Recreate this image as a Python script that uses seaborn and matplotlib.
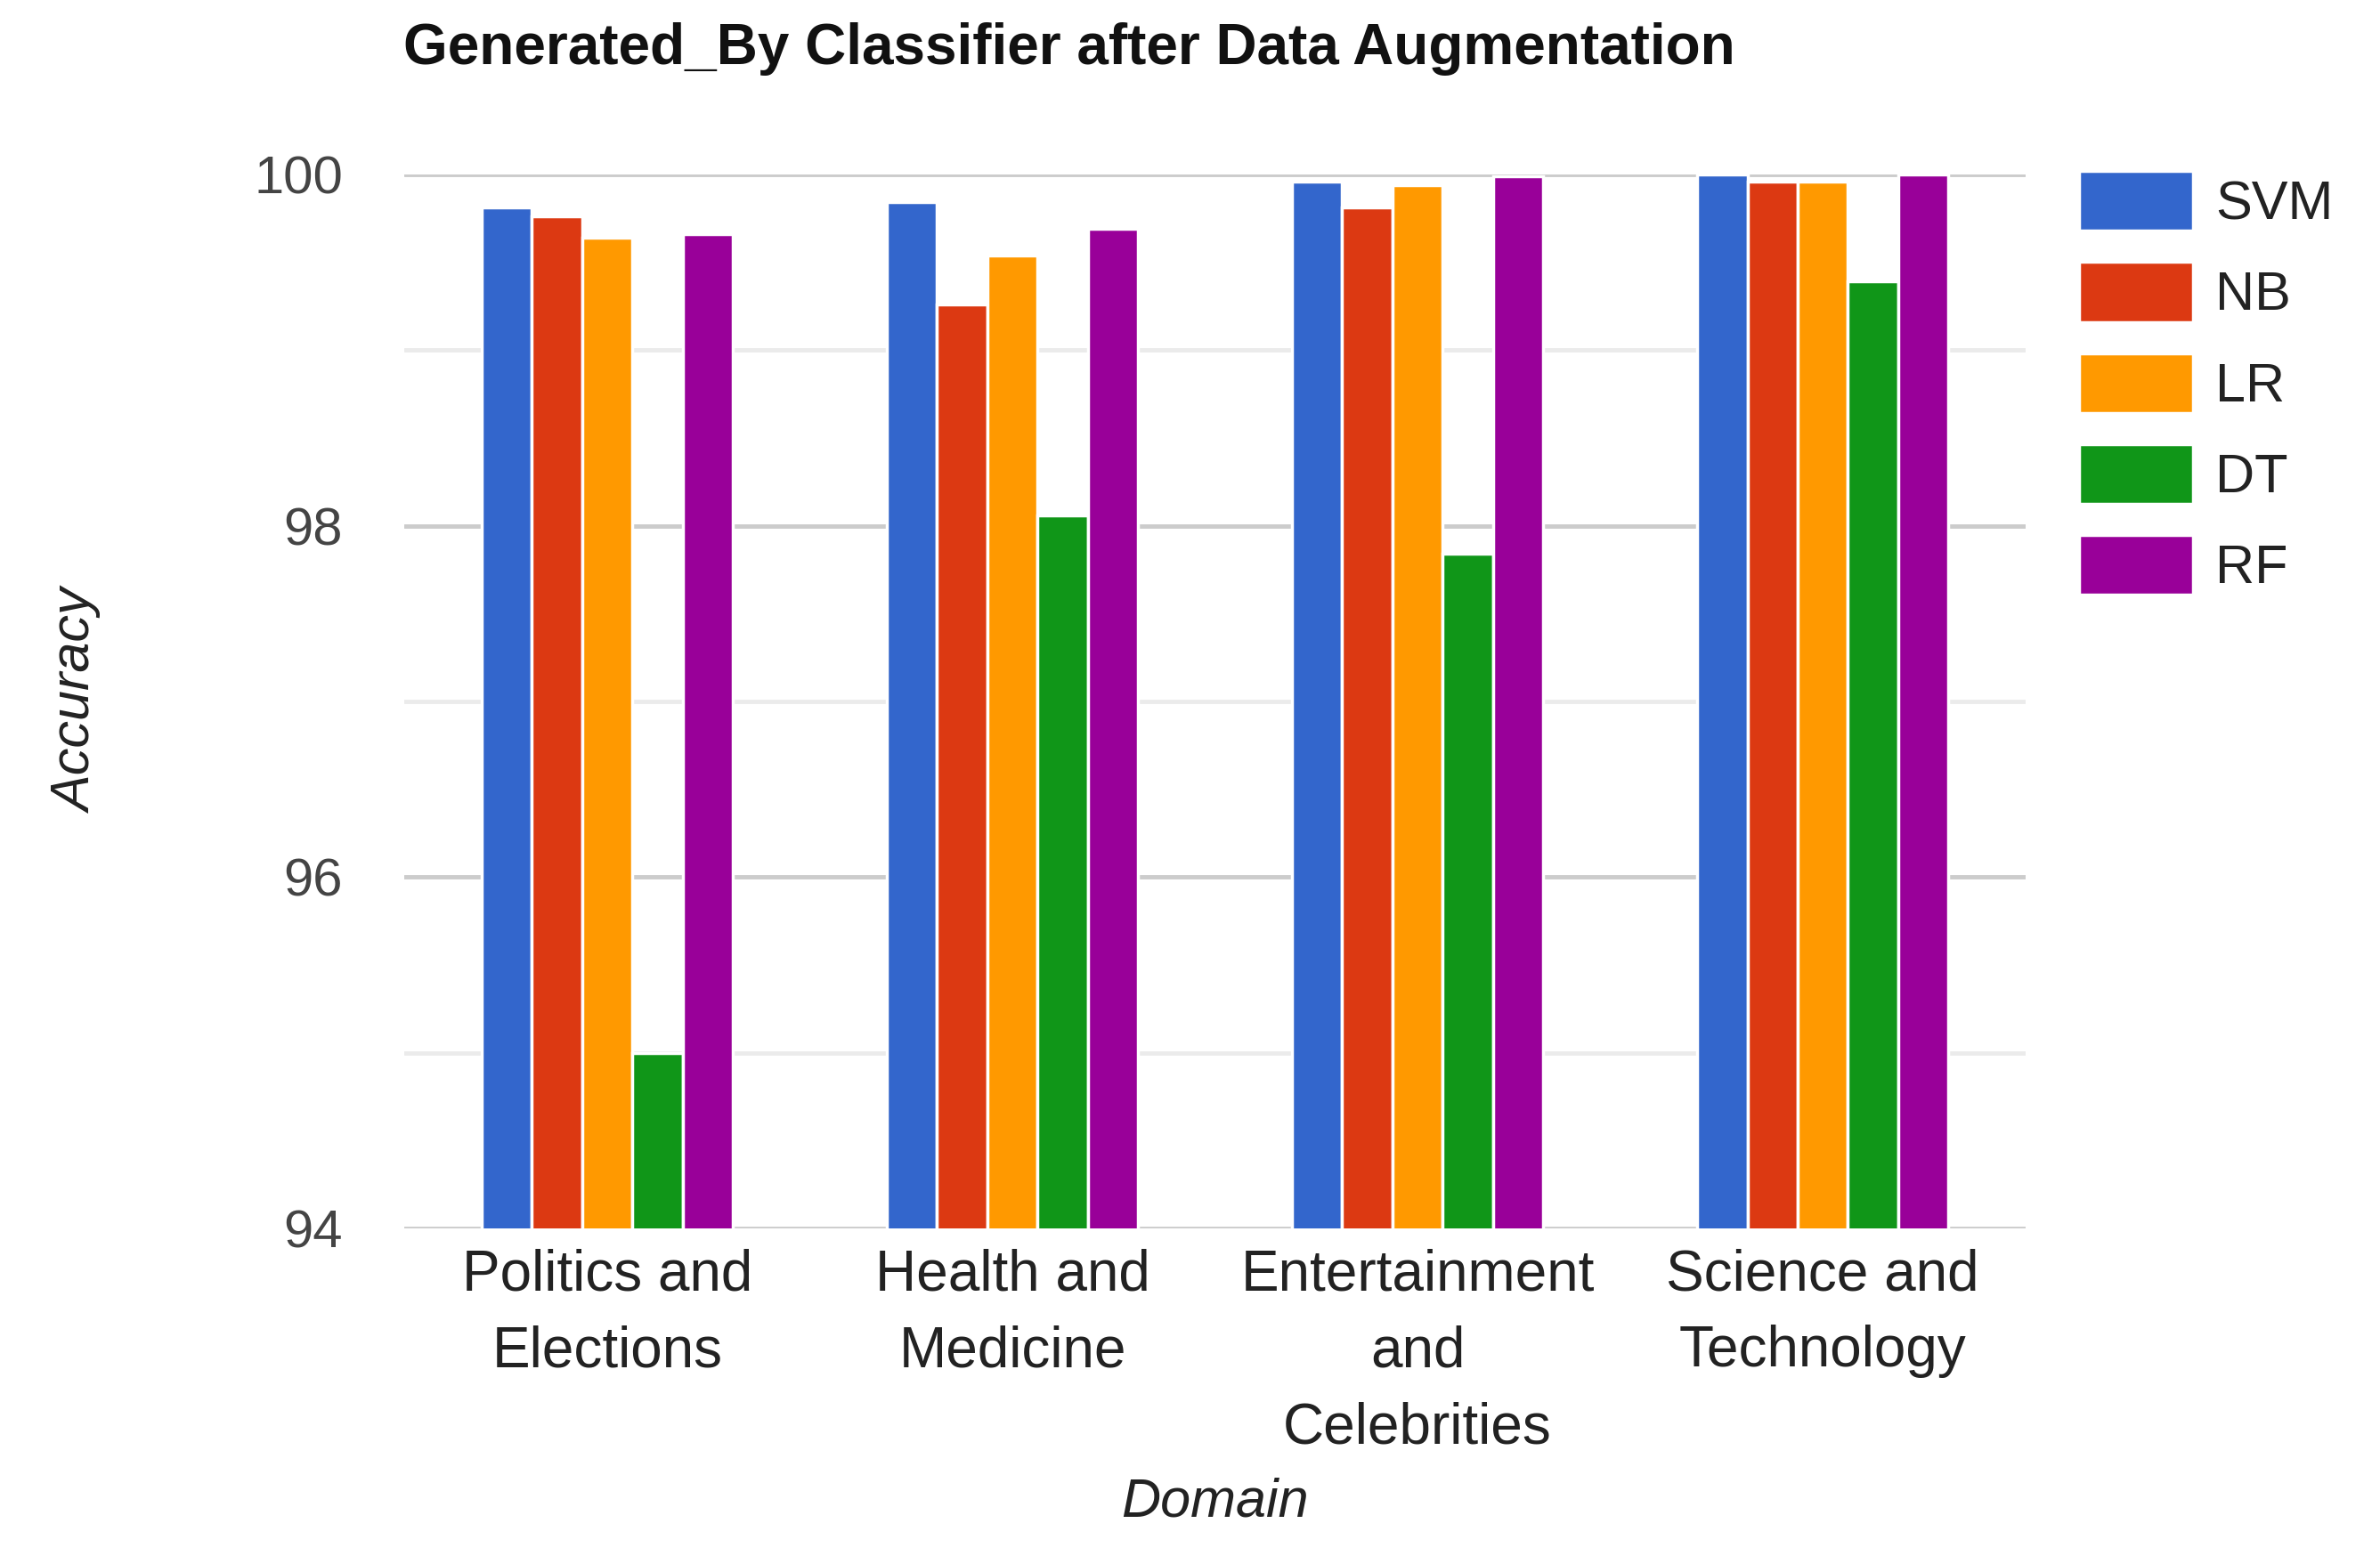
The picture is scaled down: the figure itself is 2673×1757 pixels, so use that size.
import pandas as pd
import matplotlib
matplotlib.use("Agg")
import matplotlib.pyplot as plt
import seaborn as sns

# Valeurs
domains = ["Politics and\nElections", "Health and\nMedicine",
           "Entertainment\nand\nCelebrities", "Science and\nTechnology"]
classifiers = ["SVM", "NB", "LR", "DT", "RF"]
svm = [99.81, 99.84, 99.96, 100.0]
nb = [99.76, 99.26, 99.81, 99.96]
lr = [99.64, 99.54, 99.94, 99.96]
dt = [95.0, 98.06, 97.84, 99.39]
rf = [99.66, 99.69, 99.99, 100.0]
couleurs = ["#3366CC", "#DC3912", "#FF9900", "#109618", "#990099"]

series = {"SVM": svm, "NB": nb, "LR": lr, "DT": dt, "RF": rf}
rows = []
for clf in classifiers:
    for dom, val in zip(domains, series[clf]):
        rows.append({"Domain": dom, "Accuracy": val, "Classifier": clf})
df = pd.DataFrame(rows)

sns.set_theme(style="white")
plt.rcParams["font.family"] = ["Liberation Sans", "DejaVu Sans"]

fig = plt.figure(figsize=(26.73, 17.57), dpi=100)
ax = fig.add_axes([0.170, 0.2145, 0.681, 0.674])

sns.barplot(data=df, x="Domain", y="Accuracy", hue="Classifier",
            palette=couleurs, width=0.62, edgecolor="white", linewidth=2.5,
            saturation=1, legend=True, ax=ax, zorder=3)

ax.set_ylim(94, 100)
ax.set_yticks([94, 96, 98, 100])
ax.set_yticks([95, 97, 99], minor=True)
ax.grid(axis="y", which="major", color="#cccccc", linewidth=3.5, zorder=0)
ax.grid(axis="y", which="minor", color="#ebebeb", linewidth=3.5, zorder=0)
ax.set_axisbelow(True)
for s in ax.spines.values():
    s.set_visible(False)

ax.tick_params(axis="y", which="both", length=0, pad=50, labelsize=43, labelcolor="#444444")
ax.tick_params(axis="x", length=0, pad=16, labelsize=46, labelcolor="#222222")
for lab in ax.get_xticklabels():
    lab.set_linespacing(1.55)

ax.set_xlabel("Domain", fontsize=44, style="italic", color="#222222", labelpad=18)
ax.set_ylabel("Accuracy", fontsize=44, style="italic", color="#222222", labelpad=122)

handles, labels = ax.get_legend_handles_labels()
ax.legend_.remove()
fig.legend(handles, labels, loc="upper left", bbox_to_anchor=(0.853, 0.922),
           frameon=False, fontsize=44, handlelength=2.1, handleheight=1.32,
           handletextpad=0.4, labelspacing=0.57, labelcolor="#222222")

fig.text(0.1695, 0.986, "Generated_By Classifier after Data Augmentation",
         fontsize=46, fontweight="bold", color="#111111", va="top", ha="left")

fig.savefig("out.png", dpi=100, facecolor="white")
